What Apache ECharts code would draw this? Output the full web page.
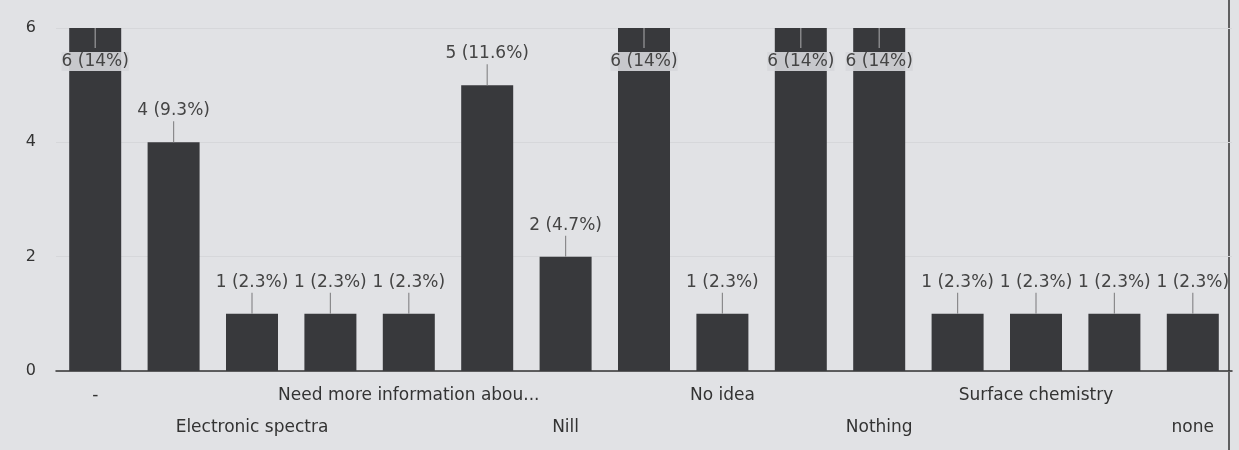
<!DOCTYPE html>
<html>
<head>
<meta charset="utf-8">
<script src="https://cdn.jsdelivr.net/npm/echarts@6/dist/echarts.min.js"></script>
<style>
html,body{margin:0;padding:0;background:#e1e2e5;}
#chart{width:1239px;height:450px;}
</style>
</head>
<body>
<div id="chart"></div>
<script>
// Data
var categories = ["-", "Chemical kinetics", "Electronic spectra", "Group theory", "Need more information abou...", "Nil", "Nill", "No", "No idea", "None", "Nothing", "Quantum chemistry", "Surface chemistry", "Thermodynamics", "none"];
var counts = [6, 4, 1, 1, 1, 5, 2, 6, 1, 6, 6, 1, 1, 1, 1];
var yTicks = [0, 2, 4, 6];

var total = counts.reduce(function(a, b){ return a + b; }, 0);
function pct(v){
  var p = v / total * 100;
  var s = String(Math.round(p * 10) / 10);
  if (p > 13.5 && p < 14.5) s = String(Math.round(p));
  return v + ' (' + s + '%)';
}
var maxVal = yTicks[yTicks.length - 1];
var FONT = 'DejaVu Sans, Liberation Sans, Arial, sans-serif';

var barData = counts.map(function(v){
  var item = { value: v };
  if (v >= maxVal) {
    item.label = {
      position: 'insideTop',
      distance: 24,
      backgroundColor: 'rgba(215,216,220,0.9)',
      padding: [1, 0]
    };
  }
  return item;
});

var chart = echarts.init(document.getElementById('chart'));
chart.setOption({
  backgroundColor: '#e1e2e5',
  animation: false,
  grid: { left: 56, right: 7, top: 28, bottom: 79, containLabel: false },
  xAxis: {
    type: 'category',
    data: categories,
    axisLine: { show: true, lineStyle: { color: '#333', width: 1.5 } },
    axisTick: { show: false },
    axisLabel: {
      interval: 1,
      color: '#333',
      fontFamily: FONT,
      fontSize: 17,
      lineHeight: 32,
      margin: 9,
      formatter: function(value, index){
        return (index % 4 === 2) ? '\n' + value : value;
      }
    }
  },
  yAxis: {
    type: 'value',
    min: yTicks[0],
    max: maxVal,
    interval: 2,
    axisLine: { show: false },
    axisTick: { show: false },
    splitLine: { show: true, lineStyle: { color: '#d6d7da', width: 1 } },
    axisLabel: {
      color: '#333',
      fontFamily: FONT,
      fontSize: 16,
      margin: 20
    }
  },
  series: [
    {
      type: 'bar',
      data: barData,
      barWidth: 52,
      itemStyle: { color: '#38393c' },
      label: {
        show: true,
        position: 'top',
        distance: 23,
        color: '#444',
        fontFamily: FONT,
        fontSize: 17,
        formatter: function(p){ return pct(p.value); }
      },
      z: 2
    },
    {
      type: 'custom',
      data: counts.map(function(v, i){ return [i, v]; }),
      renderItem: function(params, api){
        var pt = api.coord([api.value(0), api.value(1)]);
        var inside = api.value(1) >= maxVal;
        var y2 = inside ? pt[1] + 20 : pt[1] - 21;
        return {
          type: 'line',
          shape: { x1: pt[0], y1: pt[1], x2: pt[0], y2: y2 },
          style: { stroke: inside ? '#9a9a9c' : '#8a8a8c', lineWidth: 1.2 }
        };
      },
      z: 3,
      silent: true
    }
  ],
  graphic: [
    { type: 'line', shape: { x1: 1229, y1: 0, x2: 1229, y2: 450 }, style: { stroke: '#333', lineWidth: 1.5 } }
  ]
});
</script>
</body>
</html>
